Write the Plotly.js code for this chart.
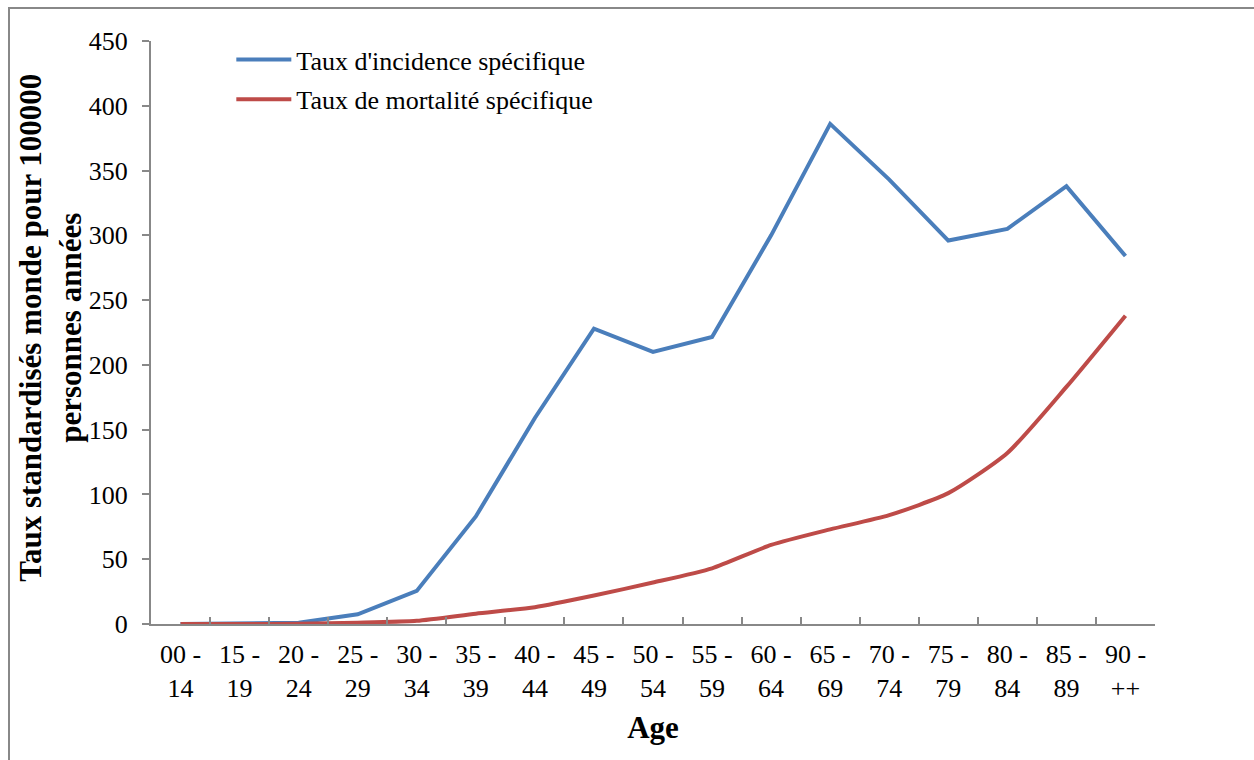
<!DOCTYPE html>
<html>
<head>
<meta charset="utf-8">
<script src="https://cdn.plot.ly/plotly-3.0.1.min.js"></script>
<style>
html,body{margin:0;padding:0;background:#fff;}
#frame{position:absolute;left:8px;top:7px;width:1260px;height:770px;border:2px solid #888;box-sizing:border-box;}
#chart{position:absolute;left:0;top:0;width:1254px;height:760px;}
</style>
</head>
<body>
<div id="frame"></div>
<div id="chart"></div>
<script>
const categories = ["00 -<br>14","15 -<br>19","20 -<br>24","25 -<br>29","30 -<br>34","35 -<br>39","40 -<br>44","45 -<br>49","50 -<br>54","55 -<br>59","60 -<br>64","65 -<br>69","70 -<br>74","75 -<br>79","80 -<br>84","85 -<br>89","90 -<br>++"];
const incidence = [0, 0.3, 1, 7.5, 25.5, 83, 159, 228, 210, 221.5, 300, 386, 343, 296, 305, 338, 284];
const mortalite = [0, 0, 0.2, 1, 2.5, 8, 13, 22, 32, 43, 61, 73, 84, 101, 132, 183, 238];
const seriesNames = ["Taux d'incidence spécifique", "Taux de mortalité spécifique"];
const yTitle = "Taux standardisés monde pour 100000<br>personnes années";
const xTitle = "Age";

const serif = "Liberation Serif";
const traces = [
  {x: categories, y: incidence, name: seriesNames[0], type: "scatter", mode: "lines",
   line: {color: "#4a7ebb", width: 4}, legendgroup: "a"},
  {x: categories, y: mortalite, name: seriesNames[1], type: "scatter", mode: "lines",
   line: {color: "#be4b48", width: 4, shape: "spline", smoothing: 0.6}, legendgroup: "b"}
];
const layout = {
  width: 1254, height: 760,
  margin: {l: 151, r: 99, t: 41, b: 136},
  paper_bgcolor: "rgba(0,0,0,0)", plot_bgcolor: "rgba(0,0,0,0)",
  font: {family: serif, color: "#000", size: 26},
  showlegend: true,
  legend: {x: 0.080, y: 1.0086, xanchor: "left", yanchor: "top", bgcolor: "rgba(0,0,0,0)",
           font: {family: serif, size: 26}, tracegroupgap: 3, traceorder: "grouped", itemwidth: 55},
  xaxis: {type: "category", range: [-0.5, 16.5], showline: true, linecolor: "#888", linewidth: 2,
          ticks: "inside", tickson: "boundaries", ticklen: 7, tickcolor: "#888", tickwidth: 2,
          showgrid: false, zeroline: false, tickangle: 0, ticklabelstandoff: 6,
          tickfont: {family: serif, size: 26},
          title: {text: xTitle, font: {family: serif, size: 31, weight: "bold"}, standoff: 14}},
  yaxis: {range: [0, 450], dtick: 50, showline: true, linecolor: "#888", linewidth: 2,
          ticks: "outside", ticklen: 7, tickcolor: "#888", tickwidth: 2, ticklabelstandoff: 9,
          showgrid: false, zeroline: false, tickfont: {family: serif, size: 26}},
  annotations: [{text: yTitle, xref: "paper", yref: "paper", x: -0.0996, y: 0.508,
                 xanchor: "center", yanchor: "middle", textangle: -90, showarrow: false,
                 font: {family: serif, size: 31, weight: "bold"}}]
};
Plotly.newPlot("chart", traces, layout, {displayModeBar: false, staticPlot: true});
</script>
</body>
</html>
